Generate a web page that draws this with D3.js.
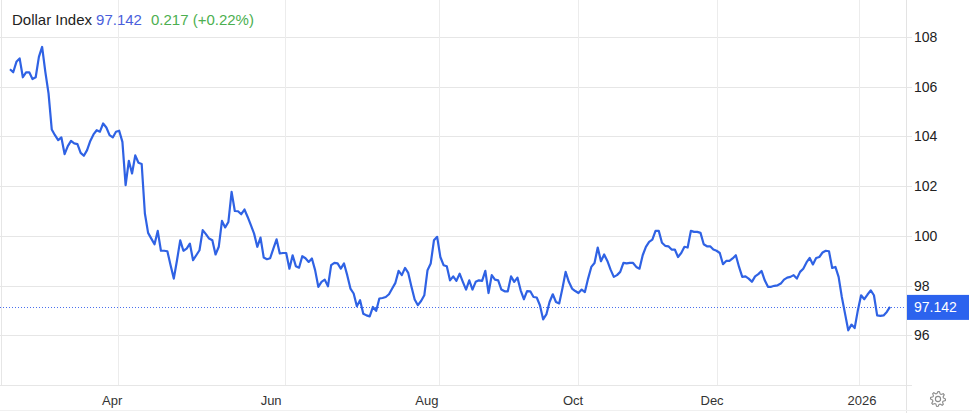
<!DOCTYPE html>
<html>
<head>
<meta charset="utf-8">
<script src="https://cdn.jsdelivr.net/npm/d3@7"></script>
<style>
  html, body { margin: 0; padding: 0; background: #fff; }
  svg { display: block; font-family: "Liberation Sans", Arial, sans-serif; }
</style>
</head>
<body>
<div id="chart"></div>
<script>
// Dollar Index, daily closes
const values = [
  106.70, 106.58, 107.00, 107.14, 106.38, 106.58, 106.58, 106.31, 106.38, 107.20,
  107.60, 106.60, 105.73, 104.28, 104.05, 103.85, 103.96, 103.29, 103.61, 103.82,
  103.72, 103.69, 103.34, 103.22, 103.45, 103.82, 104.08, 104.25, 104.19, 104.52,
  104.36, 104.05, 103.96, 104.19, 104.23, 103.78, 102.04, 103.02, 102.51, 103.24,
  102.94, 102.89, 100.90, 100.12, 99.89, 99.66, 100.20,
  99.40, 99.40, 99.38, 98.82, 98.28, 99.02, 99.82, 99.40, 99.49, 99.69,
  99.02, 99.22, 99.42, 100.23, 100.07, 99.89, 99.82, 99.25, 99.56, 100.60,
  100.34, 100.56, 101.77, 101.00, 100.99, 100.87, 101.06, 100.76, 100.43, 100.09,
  99.56, 99.93, 99.13, 99.06, 99.10, 99.49, 99.86, 99.29, 99.31, 99.31,
  98.68, 99.22, 98.78, 98.72, 99.18, 99.10, 98.95, 99.09, 98.62, 97.95,
  98.15, 98.24, 97.97, 98.82, 98.91, 98.89, 98.68, 98.89, 98.42, 97.88,
  97.68, 97.17, 97.41, 96.87, 96.80, 96.76, 97.14, 96.98, 97.48, 97.50,
  97.54, 97.65, 97.88, 98.11, 98.59, 98.42, 98.71, 98.51, 97.95, 97.44,
  97.21, 97.38, 97.61, 98.62, 98.89, 99.82, 99.96, 99.15, 98.82, 98.78,
  98.21, 98.37, 98.19, 98.48, 98.15, 97.84, 98.21,
  97.84, 98.15, 98.21, 98.19, 98.59, 97.70, 98.42, 98.24, 98.21, 97.84,
  97.77, 97.77, 98.37, 98.15, 98.32, 97.81, 97.45, 97.78, 97.77, 97.54,
  97.52, 97.21, 96.64, 96.84, 97.34, 97.65, 97.34, 97.28, 97.88, 98.55,
  98.15, 97.88, 97.78, 97.70, 97.84, 97.74, 98.28, 98.75, 98.91, 99.53,
  98.98, 99.25, 98.99, 98.64, 98.35, 98.42, 98.55, 98.91, 98.89, 98.91,
  98.91, 98.75, 98.68,
  99.22, 99.56, 99.76, 99.85, 100.20, 100.20, 99.72, 99.60, 99.58, 99.45,
  99.45, 99.15, 99.31, 99.56, 99.53, 100.20, 100.16, 100.16, 100.12, 99.66,
  99.58, 99.58, 99.45, 99.40, 99.31, 98.86, 98.99, 98.99, 99.09, 99.22,
  98.75, 98.35, 98.37, 98.28, 98.15, 98.37, 98.46, 98.59, 98.21, 97.95,
  97.95, 97.99, 98.01, 98.08, 98.24, 98.32, 98.35, 98.42, 98.28, 98.55,
  98.68, 98.93, 99.11, 98.85, 99.11, 99.15, 99.33, 99.40, 99.38, 98.71,
  98.75, 98.35, 97.54, 96.87, 96.20, 96.43, 96.29, 97.01, 97.61, 97.45,
  97.64, 97.81, 97.61, 96.80, 96.78, 96.80, 96.94, 97.142
];

// month labels and where they fall on the trading-day index
const monthLabels = ['Apr', 'Jun', 'Aug', 'Oct', 'Dec', '2026'];
const labelIdx = [31.8, 81.3, 129.8, 175.3, 218.6, 265.3];
const gridIdx = [33.6, 85.6, 133.6, 176.8, 220.1, 264.3];

const yTicks = [96, 98, 100, 102, 104, 106, 108];
const last = 97.142;
const change = '0.217 (+0.22%)';

const width = 972;
const height = 413;
const plotRight = 906;
const plotBottom = 385;

const svg = d3.select('#chart')
  .append('svg')
  .attr('width', width)
  .attr('height', height);

const x = d3.scaleLinear()
  .domain([0, values.length - 1])
  .range([10, 890]);

const y = d3.scaleLinear()
  .domain([94, 108])
  .range([plotBottom, 37]);

// horizontal gridlines (incl. the 94 line that acts as the bottom axis)
svg.append('g')
  .selectAll('line')
  .data(d3.range(94, 109, 2))
  .enter()
  .append('line')
  .attr('x1', 0)
  .attr('x2', plotRight + 6)
  .attr('y1', d => Math.round(y(d)) + 0.5)
  .attr('y2', d => Math.round(y(d)) + 0.5)
  .attr('stroke', '#e6e6e6');

// vertical gridlines
svg.append('g')
  .selectAll('line')
  .data(gridIdx)
  .enter()
  .append('line')
  .attr('x1', d => Math.round(x(d)) + 0.5)
  .attr('x2', d => Math.round(x(d)) + 0.5)
  .attr('y1', 0)
  .attr('y2', plotBottom)
  .attr('stroke', '#ececec');

// borders
svg.append('line')
  .attr('x1', 1.5).attr('x2', 1.5)
  .attr('y1', 0).attr('y2', plotBottom)
  .attr('stroke', '#e6e6e6');

svg.append('line')
  .attr('x1', plotRight + 0.5).attr('x2', plotRight + 0.5)
  .attr('y1', 0).attr('y2', height)
  .attr('stroke', '#e3e3e3');

svg.append('line')
  .attr('x1', 0).attr('x2', width)
  .attr('y1', height - 2.5).attr('y2', height - 2.5)
  .attr('stroke', '#f0f0f0');

// y labels on the right
svg.append('g')
  .selectAll('text')
  .data(yTicks)
  .enter()
  .append('text')
  .attr('x', 914)
  .attr('y', d => y(d) + 5)
  .attr('fill', '#222')
  .style('font-size', '14px')
  .text(d => d);

// x labels
svg.append('g')
  .selectAll('text')
  .data(monthLabels)
  .enter()
  .append('text')
  .attr('x', (d, i) => x(labelIdx[i]))
  .attr('y', 405)
  .attr('fill', '#333')
  .style('font-size', '13px')
  .style('text-anchor', 'middle')
  .text(d => d);

// dotted last-value line
svg.append('line')
  .attr('x1', 0)
  .attr('x2', plotRight)
  .attr('y1', Math.round(y(last)) + 0.5)
  .attr('y2', Math.round(y(last)) + 0.5)
  .attr('stroke', '#4a70ee')
  .attr('stroke-dasharray', '1,2');

// the series
const line = d3.line()
  .x((d, i) => x(i))
  .y(d => y(d));

svg.append('path')
  .datum(values)
  .attr('d', line)
  .attr('fill', 'none')
  .attr('stroke', '#2f62e4')
  .attr('stroke-width', 2.2)
  .attr('stroke-linejoin', 'round');

// last value badge
const badge = svg.append('g')
  .attr('transform', `translate(907,${y(last)})`);

badge.append('rect')
  .attr('x', 0)
  .attr('y', -12)
  .attr('width', 62)
  .attr('height', 25)
  .attr('fill', '#2c63ee');

badge.append('text')
  .attr('x', 7)
  .attr('y', 5)
  .attr('fill', '#fff')
  .style('font-size', '14px')
  .text(last);

// title
const title = svg.append('text')
  .attr('x', 12)
  .attr('y', 25)
  .style('font-size', '15px');

title.append('tspan').attr('fill', '#222').text('Dollar Index');
title.append('tspan').attr('fill', '#4a5fdc').attr('dx', 4).text(last);
title.append('tspan').attr('fill', '#4caf50').attr('dx', 9).text(change);

// settings gear
const teeth = 8;
const gearPts = d3.range(teeth * 4 + 1).map(i => {
  const a = (i / (teeth * 4)) * 2 * Math.PI;
  const r = (i % 4 === 0 || i % 4 === 1) ? 7.5 : 5.5;
  return [a, r];
});

const gear = svg.append('g')
  .attr('transform', 'translate(938,399)');

gear.append('path')
  .attr('d', d3.lineRadial().curve(d3.curveLinearClosed)(gearPts))
  .attr('fill', 'none')
  .attr('stroke', '#8a8a8a')
  .attr('stroke-width', 1.1);

gear.append('circle')
  .attr('r', 2.6)
  .attr('fill', 'none')
  .attr('stroke', '#8a8a8a')
  .attr('stroke-width', 1.1);
</script>
</body>
</html>
